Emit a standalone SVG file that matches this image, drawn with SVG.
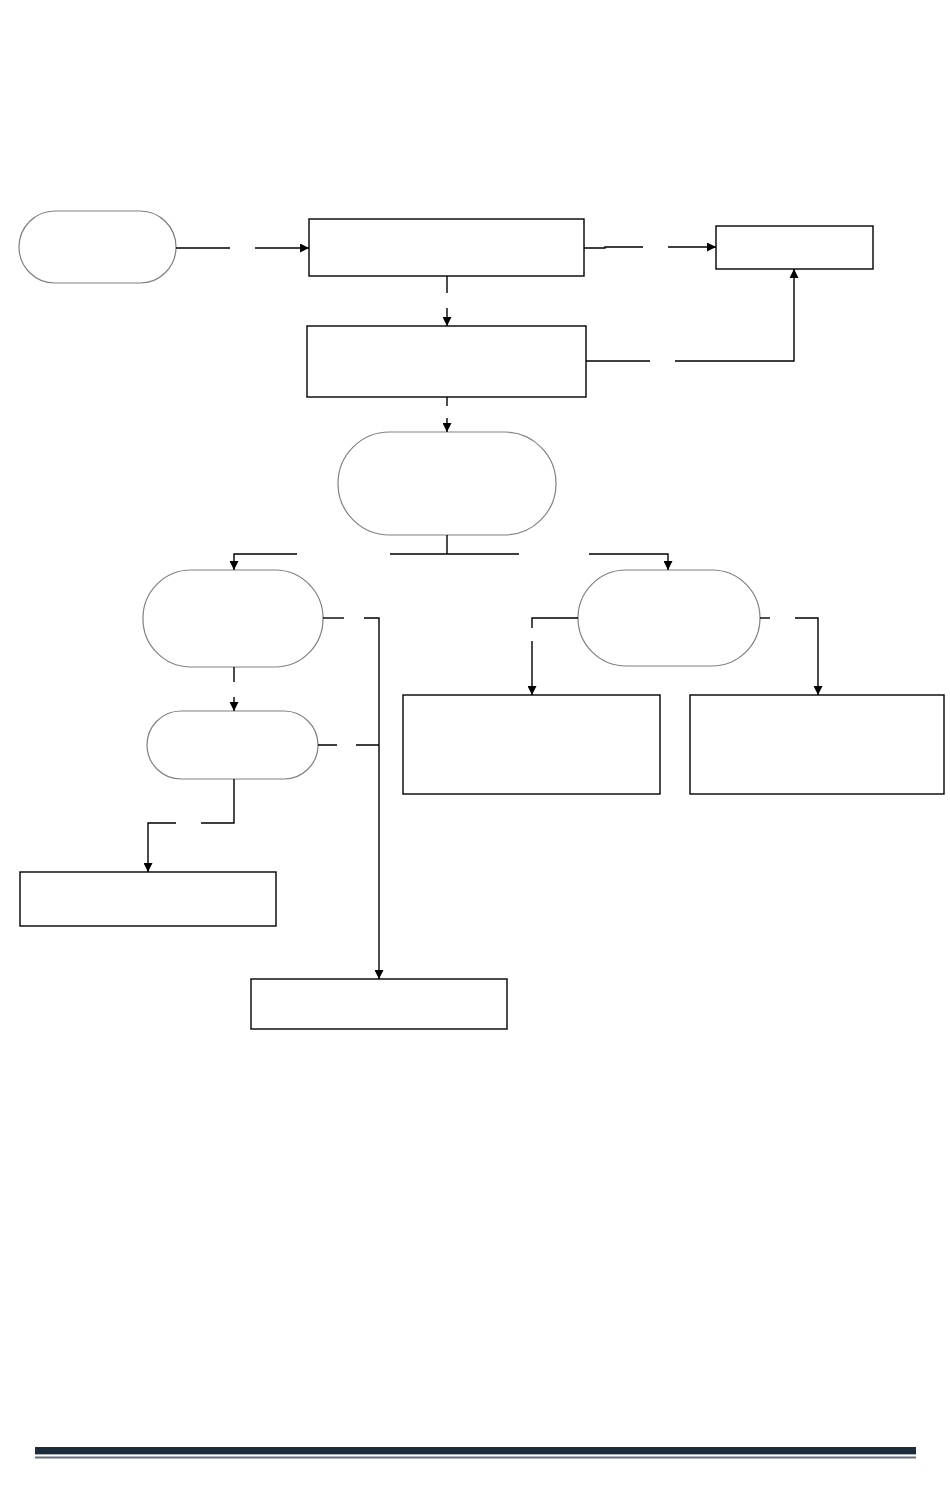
<svg xmlns="http://www.w3.org/2000/svg" width="950" height="1502" viewBox="0 0 950 1502">
<defs>
<style>
.term{fill:#fff;stroke:#808080;stroke-width:1.2}
.box{fill:#fff;stroke:#000;stroke-width:1.4}
.con{fill:none;stroke:#000;stroke-width:1.4}
</style>
<marker id="ah" markerUnits="userSpaceOnUse" markerWidth="10" markerHeight="9" refX="9" refY="4.5" orient="auto">
<path d="M0,0 L9,4.5 L0,9 z" fill="#000"/>
</marker>
</defs>
<rect width="950" height="1502" fill="#fff"/>
<g id="start"><rect class="term" x="19" y="211" width="157" height="72" rx="36" ry="36"/></g>
<g id="box1"><rect class="box" x="309" y="219" width="275" height="57"/></g>
<g id="box-topright"><rect class="box" x="716" y="226" width="157" height="43"/></g>
<g id="box2"><rect class="box" x="307" y="326" width="279" height="71"/></g>
<g id="oval-center"><rect class="term" x="338" y="432" width="218" height="103" rx="51.5" ry="51.5"/></g>
<g id="oval-left"><rect class="term" x="143" y="570" width="180" height="97" rx="48" ry="48"/></g>
<g id="oval-right"><rect class="term" x="578" y="570" width="182" height="96" rx="48" ry="48"/></g>
<g id="oval-left2"><rect class="term" x="147" y="711" width="171" height="68" rx="34" ry="34"/></g>
<g id="box-midleft"><rect class="box" x="403" y="695" width="257" height="99"/></g>
<g id="box-midright"><rect class="box" x="690" y="695" width="254" height="99"/></g>
<g id="box-bottomleft"><rect class="box" x="20" y="872" width="256" height="54"/></g>
<g id="box-bottommid"><rect class="box" x="251" y="979" width="256" height="50"/></g>
<g id="connectors">
<path class="con" d="M176,248 H230"/>
<path class="con" d="M255,248 H309" marker-end="url(#ah)"/>
<path class="con" d="M447,276 V293"/>
<path class="con" d="M447,308 V326" marker-end="url(#ah)"/>
<path class="con" d="M584,248 H605 V247 H643"/>
<path class="con" d="M668,247 H716" marker-end="url(#ah)"/>
<path class="con" d="M586,361 H650"/>
<path class="con" d="M675,361 H794 V269" marker-end="url(#ah)"/>
<path class="con" d="M447,397 V406"/>
<path class="con" d="M447,418 V432" marker-end="url(#ah)"/>
<path class="con" d="M447,535 V554 M390,554 H519"/>
<path class="con" d="M297,554 H234 V570" marker-end="url(#ah)"/>
<path class="con" d="M589,554 H668 V570" marker-end="url(#ah)"/>
<path class="con" d="M323,618 H344"/>
<path class="con" d="M364,618 H379 V979" marker-end="url(#ah)"/>
<path class="con" d="M234,667 V682"/>
<path class="con" d="M234,697 V711" marker-end="url(#ah)"/>
<path class="con" d="M318,745 H337 M356,745 H379"/>
<path class="con" d="M234,779 V823 H201"/>
<path class="con" d="M176,823 H148 V872" marker-end="url(#ah)"/>
<path class="con" d="M578,618 H532 V628"/>
<path class="con" d="M532,641 V695" marker-end="url(#ah)"/>
<path class="con" d="M760,618 H770"/>
<path class="con" d="M795,618 H818 V695" marker-end="url(#ah)"/>
</g>
<g id="footer">
<rect x="35" y="1447" width="881" height="7" fill="#1c2b3d"/>
<rect x="35" y="1454" width="881" height="1" fill="#aab2bd"/>
<rect x="35" y="1456.5" width="881" height="2" fill="#5f6c7c"/>
</g>
</svg>
